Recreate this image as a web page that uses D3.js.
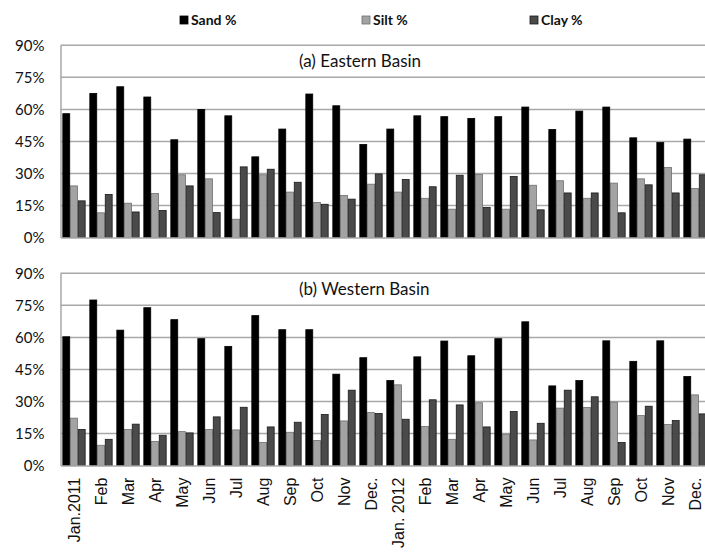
<!DOCTYPE html>
<html>
<head>
<meta charset="utf-8">
<script src="https://cdn.jsdelivr.net/npm/d3@7"></script>
<style>
  html, body { margin: 0; padding: 0; background: #fff; }
  svg { display: block; }
</style>
</head>
<body>
<svg id="chart" width="705" height="555"></svg>
<script>
// Monthly sediment texture (sand / silt / clay, %) for 2011–2012
const monthLabels = ["Jan.2011","Feb","Mar","Apr","May","Jun","Jul","Aug","Sep","Oct","Nov","Dec.",
                     "Jan. 2012","Feb","Mar","Apr","May","Jun","Jul","Aug","Sep","Oct","Nov","Dec."];
const seriesNames = ["Sand %", "Silt %", "Clay %"];
const yTicks = [0, 15, 30, 45, 60, 75, 90];

const eastSand = [58, 67.5, 70.6, 65.8, 45.8, 60, 57, 37.8, 50.8, 67.2, 61.7, 43.6,
                  50.8, 57, 56.6, 55.8, 56.6, 61.1, 50.6, 59.2, 61.1, 46.7, 44.5, 46.1];
const eastSilt = [24.2, 11.6, 16.1, 20.6, 29.4, 27.5, 8.6, 29.4, 21.3, 16.4, 19.7, 25,
                  21.3, 18.4, 13.3, 29.5, 13.3, 24.5, 26.6, 18.4, 25.5, 27.5, 32.8, 23];
const eastClay = [17.2, 20.2, 12, 12.7, 24.2, 11.7, 33.1, 32, 25.9, 15.6, 18, 29.8,
                  27.2, 23.8, 29.2, 14.1, 28.6, 13, 20.9, 20.9, 11.6, 24.7, 20.9, 29.4];

const westSand = [60.3, 77.5, 63.4, 73.9, 68.3, 59.4, 55.8, 70.2, 63.6, 63.6, 42.8, 50.5,
                  39.8, 50.9, 58.3, 51.4, 59.4, 67.3, 37.3, 39.8, 58.4, 48.8, 58.4, 41.7];
const westSilt = [22.2, 9.5, 16.9, 11.3, 15.9, 16.9, 16.7, 10.8, 15.6, 11.7, 20.9, 24.8,
                  37.8, 18.3, 12.3, 29.4, 14.7, 12, 26.9, 27.2, 29.7, 23.4, 19.2, 33.1];
const westClay = [16.9, 12.3, 19.4, 14.2, 15.3, 22.8, 27.3, 18.1, 20.3, 23.9, 35.3, 24.4,
                  21.7, 30.8, 28.4, 18.1, 25.3, 19.8, 35.3, 32.2, 10.8, 27.8, 21.1, 24.2];

const panels = [
  { title: "(a) Eastern Basin", top: 45.3, bottom: 237.6, series: [eastSand, eastSilt, eastClay], labels: false },
  { title: "(b) Western Basin", top: 273.3, bottom: 465.6, series: [westSand, westSilt, westClay], labels: true }
];

const fills   = ["#000000", "#a3a3a3", "#4a4a4a"];
const strokes = ["#000000", "#6e6e6e", "#1a1a1a"];
const gridColor = "#a8a8a8";

const svg = d3.select("#chart");
const left = 60.5, step = 27;

const x = d3.scaleBand()
  .domain(d3.range(monthLabels.length))
  .range([left, left + step * monthLabels.length])
  .paddingInner(0).paddingOuter(0);

const xSub = d3.scaleBand()
  .domain(seriesNames)
  .range([0, x.bandwidth()])
  .paddingInner(0)
  .paddingOuter(0.25);

panels.forEach(p => {
  const y = d3.scaleLinear().domain([0, 90]).range([p.bottom, p.top]);
  const g = svg.append("g");

  // horizontal gridlines
  g.append("g").selectAll("line").data(yTicks.filter(t => t > 0)).join("line")
    .attr("x1", left).attr("x2", 705)
    .attr("y1", d => y(d)).attr("y2", d => y(d))
    .attr("stroke", gridColor).attr("stroke-width", 1.5);

  // y axis with percentage labels
  const yAxis = d3.axisLeft(y).tickValues(yTicks).tickFormat(d => d + "%").tickSize(0).tickPadding(16);
  const ya = g.append("g").attr("transform", `translate(${left},0)`).call(yAxis);
  ya.select(".domain").attr("stroke", gridColor).attr("stroke-width", 1.5);
  ya.selectAll("text").attr("font-family", "Lato, 'Open Sans', sans-serif")
    .attr("font-size", 15).attr("fill", "#111");

  // bars
  p.series.forEach((vals, si) => {
    g.append("g").selectAll("rect").data(vals).join("rect")
      .attr("x", (d, i) => x(i) + xSub(seriesNames[si]) + 0.4)
      .attr("width", xSub.bandwidth() - 0.8)
      .attr("y", d => y(d))
      .attr("height", d => y(0) - y(d))
      .attr("fill", fills[si])
      .attr("stroke", strokes[si]).attr("stroke-width", 0.8);
  });

  // baseline / x axis
  const xAxis = d3.axisBottom(x).tickSize(0).tickPadding(12)
    .tickFormat(i => p.labels ? monthLabels[i] : "");
  const xa = g.append("g").attr("transform", `translate(0,${y(0)})`).call(xAxis);
  xa.select(".domain").attr("stroke", gridColor).attr("stroke-width", 1.5);
  xa.selectAll("text")
    .attr("font-family", "'Liberation Sans', Arial, sans-serif")
    .attr("font-size", 16).attr("fill", "#111")
    .attr("transform", "rotate(-90)")
    .attr("text-anchor", "end")
    .attr("dy", "0.35em")
    .attr("x", -12).attr("y", 0);

  // panel title
  g.append("text")
    .attr("x", 299).attr("y", p.top + 21.5)
    .attr("font-family", "Lato, 'Open Sans', sans-serif")
    .attr("font-size", 17).attr("fill", "#111")
    .text(p.title);
});

// legend
const legendX = [180, 362, 530];
const legend = svg.append("g").attr("font-family", "Lato, 'Open Sans', sans-serif");
seriesNames.forEach((name, i) => {
  legend.append("rect").attr("x", legendX[i]).attr("y", 16).attr("width", 8).attr("height", 8)
    .attr("fill", fills[i]).attr("stroke", strokes[i]).attr("stroke-width", 0.8);
  legend.append("text").attr("x", legendX[i] + 11).attr("y", 25)
    .attr("font-size", 14).attr("font-weight", "bold").attr("fill", "#111").text(name);
});
</script>
</body>
</html>
